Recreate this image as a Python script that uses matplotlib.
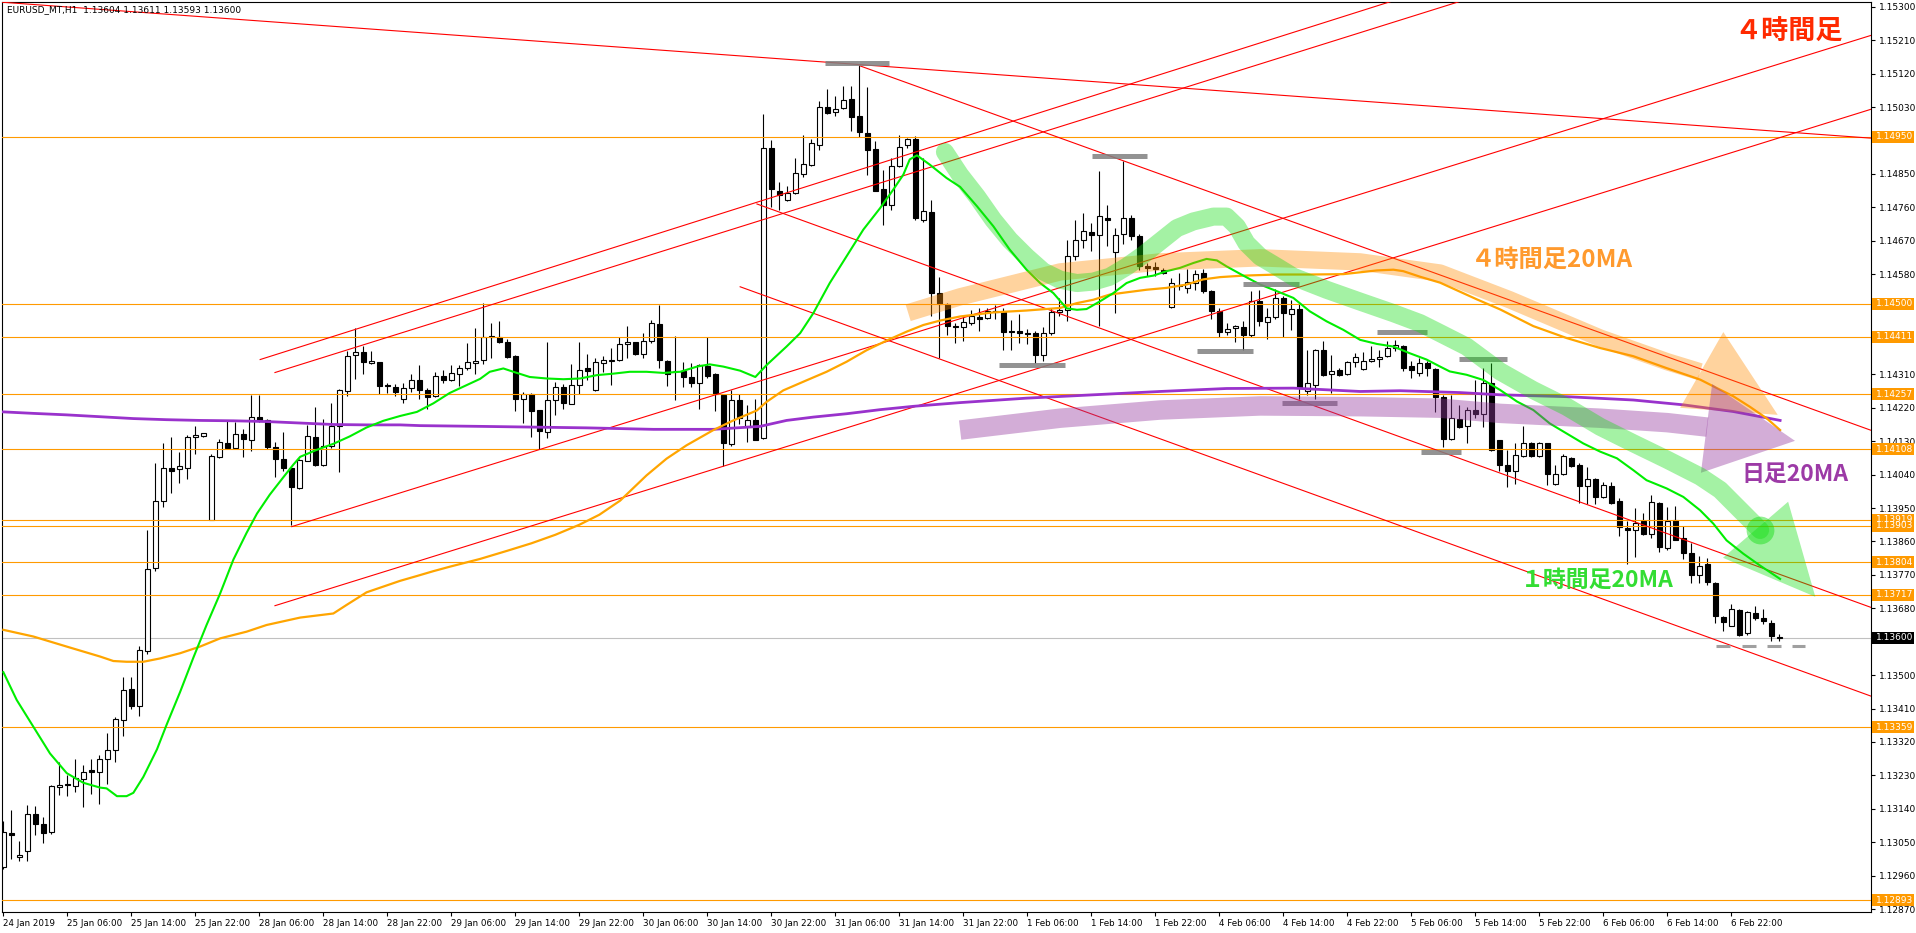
import numpy as np
import matplotlib
matplotlib.use('Agg')
import matplotlib.pyplot as plt
from matplotlib.patches import Rectangle, Polygon

# ---------------- DATA ----------------
bar_open = [
1.12984, 1.13074, 1.13009, 1.13027, 1.13125, 1.13100, 1.13077, 1.13200, 1.13208, 1.13201,
1.13220, 1.13244, 1.13239, 1.13273, 1.13298, 1.13379, 1.13462, 1.13418, 1.13565, 1.13788,
1.13969, 1.14059, 1.14054, 1.14059, 1.14141, 1.14144, 1.13919, 1.14087, 1.14124, 1.14113,
1.14149, 1.14134, 1.14194, 1.14187, 1.14114, 1.14083, 1.14059, 1.14004, 1.14078, 1.14141,
1.14066, 1.14116, 1.14171, 1.14265, 1.14361, 1.14371, 1.14341, 1.14343, 1.14281, 1.14277,
1.14243, 1.14274, 1.14296, 1.14267, 1.14252, 1.14307, 1.14294, 1.14311, 1.14326, 1.14340,
1.14348, 1.14412, 1.14412, 1.14398, 1.14359, 1.14245, 1.14258, 1.14213, 1.14155, 1.14240,
1.14275, 1.14231, 1.14281, 1.14326, 1.14267, 1.14342, 1.14347, 1.14348, 1.14392, 1.14396,
1.14366, 1.14400, 1.14446, 1.14347, 1.14320, 1.14320, 1.14302, 1.14287, 1.14332, 1.14312,
1.14254, 1.14122, 1.14242, 1.14170, 1.14188, 1.14140, 1.14920, 1.14803, 1.14779, 1.14799,
1.14851, 1.14875, 1.14929, 1.15031, 1.15018, 1.15028, 1.15051, 1.15006, 1.14961, 1.14916,
1.14808, 1.14767, 1.14871, 1.14927, 1.14943, 1.14727, 1.14747, 1.14528, 1.14500, 1.14439,
1.14437, 1.14448, 1.14464, 1.14462, 1.14482, 1.14477, 1.14427, 1.14426, 1.14421, 1.14421,
1.14363, 1.14421, 1.14477, 1.14484, 1.14628, 1.14673, 1.14694, 1.14686, 1.14731, 1.14640,
1.14688, 1.14731, 1.14684, 1.14601, 1.14600, 1.14590, 1.14491, 1.14552, 1.14543, 1.14556,
1.14583, 1.14534, 1.14482, 1.14424, 1.14435, 1.14437, 1.14417, 1.14507, 1.14451, 1.14464,
1.14516, 1.14473, 1.14487, 1.14266, 1.14282, 1.14376, 1.14311, 1.14322, 1.14311, 1.14343,
1.14324, 1.14345, 1.14351, 1.14360, 1.14382, 1.14386, 1.14333, 1.14315, 1.14341, 1.14324,
1.14249, 1.14135, 1.14189, 1.14171, 1.14213, 1.14203, 1.14287, 1.14132, 1.14066, 1.14050,
1.14090, 1.14124, 1.14091, 1.14124, 1.14016, 1.14041, 1.14084, 1.14066, 1.14009, 1.14027,
1.13980, 1.14009, 1.13968, 1.13897, 1.13890, 1.13915, 1.13881, 1.13964, 1.13843, 1.13917,
1.13868, 1.13829, 1.13771, 1.13798, 1.13749, 1.13657, 1.13633, 1.13676, 1.13613, 1.13667,
1.13653, 1.13641, 1.13604]

bar_high = [
1.13106, 1.13136, 1.13054, 1.13149, 1.13147, 1.13118, 1.13203, 1.13265, 1.13232, 1.13275,
1.13258, 1.13275, 1.13286, 1.13343, 1.13387, 1.13494, 1.13494, 1.13578, 1.13890, 1.14072,
1.14124, 1.14141, 1.14100, 1.14147, 1.14172, 1.14153, 1.14095, 1.14135, 1.14186, 1.14183,
1.14162, 1.14255, 1.14255, 1.14189, 1.14127, 1.14154, 1.14061, 1.14083, 1.14174, 1.14221,
1.14191, 1.14234, 1.14270, 1.14374, 1.14434, 1.14387, 1.14374, 1.14344, 1.14288, 1.14284,
1.14288, 1.14311, 1.14336, 1.14274, 1.14317, 1.14321, 1.14336, 1.14336, 1.14395, 1.14436,
1.14502, 1.14449, 1.14455, 1.14404, 1.14362, 1.14263, 1.14261, 1.14215, 1.14398, 1.14290,
1.14285, 1.14339, 1.14398, 1.14365, 1.14353, 1.14359, 1.14380, 1.14412, 1.14439, 1.14398,
1.14421, 1.14457, 1.14497, 1.14350, 1.14413, 1.14344, 1.14342, 1.14339, 1.14410, 1.14314,
1.14258, 1.14267, 1.14258, 1.14227, 1.14245, 1.15012, 1.14941, 1.14828, 1.14817, 1.14893,
1.14956, 1.14945, 1.15046, 1.15078, 1.15060, 1.15087, 1.15087, 1.15143, 1.15085, 1.14938,
1.14860, 1.14893, 1.14956, 1.14947, 1.14952, 1.14893, 1.14779, 1.14572, 1.14502, 1.14449,
1.14464, 1.14484, 1.14489, 1.14490, 1.14496, 1.14489, 1.14457, 1.14472, 1.14432, 1.14426,
1.14437, 1.14489, 1.14516, 1.14671, 1.14727, 1.14745, 1.14718, 1.14857, 1.14765, 1.14704,
1.14884, 1.14740, 1.14688, 1.14610, 1.14614, 1.14597, 1.14570, 1.14583, 1.14594, 1.14590,
1.14594, 1.14538, 1.14489, 1.14448, 1.14444, 1.14455, 1.14534, 1.14536, 1.14489, 1.14540,
1.14520, 1.14511, 1.14502, 1.14376, 1.14378, 1.14401, 1.14362, 1.14327, 1.14347, 1.14367,
1.14370, 1.14387, 1.14376, 1.14401, 1.14403, 1.14390, 1.14345, 1.14354, 1.14345, 1.14327,
1.14255, 1.14255, 1.14228, 1.14223, 1.14295, 1.14327, 1.14341, 1.14133, 1.14106, 1.14124,
1.14171, 1.14129, 1.14129, 1.14126, 1.14066, 1.14095, 1.14088, 1.14070, 1.14061, 1.14030,
1.14020, 1.14021, 1.13978, 1.13915, 1.13949, 1.13937, 1.13985, 1.13967, 1.13953, 1.13955,
1.13901, 1.13856, 1.13820, 1.13815, 1.13750, 1.13660, 1.13692, 1.13678, 1.13672, 1.13685,
1.13677, 1.13649, 1.13611]

bar_low = [
1.12979, 1.13005, 1.13000, 1.12999, 1.13069, 1.13048, 1.13072, 1.13178, 1.13174, 1.13185,
1.13144, 1.13180, 1.13154, 1.13206, 1.13265, 1.13337, 1.13408, 1.13391, 1.13557, 1.13780,
1.13953, 1.13990, 1.14017, 1.14028, 1.14095, 1.14142, 1.13919, 1.14085, 1.14109, 1.14110,
1.14088, 1.14104, 1.14183, 1.14109, 1.14034, 1.14050, 1.13904, 1.14002, 1.14076, 1.14064,
1.14064, 1.14112, 1.14046, 1.14252, 1.14298, 1.14312, 1.14339, 1.14257, 1.14260, 1.14253,
1.14232, 1.14262, 1.14245, 1.14217, 1.14250, 1.14288, 1.14291, 1.14280, 1.14322, 1.14310,
1.14339, 1.14353, 1.14394, 1.14353, 1.14212, 1.14179, 1.14141, 1.14108, 1.14140, 1.14200,
1.14218, 1.14230, 1.14258, 1.14294, 1.14265, 1.14317, 1.14281, 1.14347, 1.14353, 1.14362,
1.14353, 1.14394, 1.14326, 1.14278, 1.14242, 1.14276, 1.14276, 1.14218, 1.14299, 1.14211,
1.14062, 1.14116, 1.14177, 1.14128, 1.14132, 1.14137, 1.14761, 1.14752, 1.14776, 1.14797,
1.14842, 1.14871, 1.14914, 1.15010, 1.15006, 1.15026, 1.14965, 1.14950, 1.14848, 1.14803,
1.14713, 1.14752, 1.14869, 1.14920, 1.14727, 1.14720, 1.14466, 1.14353, 1.14416, 1.14394,
1.14399, 1.14444, 1.14428, 1.14459, 1.14459, 1.14376, 1.14376, 1.14394, 1.14392, 1.14340,
1.14347, 1.14417, 1.14466, 1.14453, 1.14617, 1.14650, 1.14643, 1.14441, 1.14657, 1.14475,
1.14661, 1.14671, 1.14592, 1.14574, 1.14576, 1.14581, 1.14488, 1.14536, 1.14529, 1.14538,
1.14529, 1.14460, 1.14412, 1.14417, 1.14396, 1.14376, 1.14412, 1.14441, 1.14405, 1.14459,
1.14412, 1.14430, 1.14243, 1.14255, 1.14243, 1.14306, 1.14261, 1.14306, 1.14309, 1.14331,
1.14322, 1.14343, 1.14330, 1.14356, 1.14373, 1.14318, 1.14300, 1.14305, 1.14306, 1.14210,
1.14115, 1.14133, 1.14165, 1.14124, 1.14192, 1.14169, 1.14104, 1.14050, 1.14007, 1.14016,
1.14088, 1.14088, 1.14088, 1.14011, 1.14012, 1.14039, 1.14061, 1.13964, 1.13962, 1.13962,
1.13977, 1.13960, 1.13874, 1.13800, 1.13818, 1.13877, 1.13868, 1.13832, 1.13836, 1.13863,
1.13814, 1.13748, 1.13748, 1.13744, 1.13640, 1.13620, 1.13631, 1.13606, 1.13608, 1.13649,
1.13638, 1.13591, 1.13593]

bar_close = [
1.13077, 1.13069, 1.13015, 1.13125, 1.13098, 1.13076, 1.13201, 1.13205, 1.13203, 1.13222,
1.13240, 1.13239, 1.13273, 1.13297, 1.13382, 1.13459, 1.13416, 1.13568, 1.13787, 1.13970,
1.14059, 1.14051, 1.14064, 1.14141, 1.14147, 1.14151, 1.14090, 1.14128, 1.14112, 1.14149,
1.14136, 1.14195, 1.14187, 1.14114, 1.14082, 1.14058, 1.14007, 1.14079, 1.14143, 1.14067,
1.14118, 1.14171, 1.14267, 1.14359, 1.14371, 1.14343, 1.14346, 1.14278, 1.14280, 1.14262,
1.14272, 1.14294, 1.14267, 1.14250, 1.14305, 1.14294, 1.14313, 1.14327, 1.14343, 1.14346,
1.14412, 1.14413, 1.14398, 1.14357, 1.14245, 1.14258, 1.14211, 1.14157, 1.14240, 1.14276,
1.14233, 1.14281, 1.14323, 1.14320, 1.14344, 1.14348, 1.14348, 1.14393, 1.14397, 1.14366,
1.14400, 1.14448, 1.14350, 1.14311, 1.14318, 1.14302, 1.14287, 1.14335, 1.14305, 1.14256,
1.14125, 1.14242, 1.14193, 1.14188, 1.14134, 1.14920, 1.14808, 1.14792, 1.14799, 1.14853,
1.14878, 1.14932, 1.15031, 1.15015, 1.15026, 1.15049, 1.15004, 1.14963, 1.14914, 1.14803,
1.14767, 1.14871, 1.14923, 1.14943, 1.14731, 1.14749, 1.14530, 1.14500, 1.14439, 1.14437,
1.14450, 1.14466, 1.14459, 1.14482, 1.14477, 1.14424, 1.14424, 1.14421, 1.14420, 1.14363,
1.14421, 1.14477, 1.14484, 1.14628, 1.14673, 1.14696, 1.14686, 1.14736, 1.14725, 1.14685,
1.14731, 1.14682, 1.14601, 1.14597, 1.14593, 1.14583, 1.14556, 1.14547, 1.14558, 1.14581,
1.14534, 1.14482, 1.14424, 1.14432, 1.14439, 1.14417, 1.14507, 1.14453, 1.14464, 1.14516,
1.14475, 1.14486, 1.14273, 1.14286, 1.14376, 1.14309, 1.14318, 1.14309, 1.14343, 1.14358,
1.14347, 1.14351, 1.14358, 1.14380, 1.14389, 1.14327, 1.14321, 1.14341, 1.14327, 1.14250,
1.14135, 1.14192, 1.14167, 1.14214, 1.14203, 1.14287, 1.14106, 1.14066, 1.14050, 1.14093,
1.14124, 1.14091, 1.14124, 1.14041, 1.14041, 1.14090, 1.14064, 1.14009, 1.14027, 1.13980,
1.14011, 1.13964, 1.13899, 1.13890, 1.13910, 1.13881, 1.13965, 1.13845, 1.13915, 1.13865,
1.13829, 1.13769, 1.13794, 1.13750, 1.13660, 1.13642, 1.13678, 1.13608, 1.13669, 1.13654,
1.13645, 1.13606, 1.13600]

# 1H 20MA (green): (bar index, price)
ma1h_x = [0, 1.67, 3.75, 5.83, 7.92, 10, 12.1, 12.9, 14.2, 15.4, 16.25, 17.5, 19.2, 20.4, 22.1,
          23.75, 25.4, 27.1, 28.75, 30.4, 31.7, 33.3, 35, 36.25, 37.1, 39.2, 41.25, 43.3, 45.4,
          47.5, 49.6, 51.7, 53.75, 55.8, 57.9, 59.6, 60.8, 62.5, 63.75, 65.8, 67.9, 70, 72.1,
          74.2, 76.25, 78.3, 80.4, 82.5, 84.6, 86.7, 88.3, 90, 92.1, 94, 95.4, 97.9, 99.6,
          101.25, 103.3, 105.4, 107.5, 109.6, 111.25, 112.5, 113.3, 114.2, 115.8, 117.9, 119.6,
          121.7, 123.75, 125.8, 127.9, 129.6, 131.25, 132.9, 134.2, 135.4, 137.1, 138.75, 140.4,
          142.1, 143.75, 145.4, 147.1, 148.75, 150.4, 151.7, 152.9, 155, 157.1, 159.2, 161.25,
          163.3, 165.4, 167.5, 169.6, 171.7, 173.75, 175.8, 177.9, 179.6, 180.8, 182.9, 185,
          187.1, 189.2, 191.25, 193.3, 195.4, 197.5, 199.6, 201.7, 203.75, 205.4, 207.9, 210,
          212.1, 213.75, 215.4, 217.5, 219.6, 222.1]
ma1h_y = [1.13508, 1.13433, 1.13361, 1.13289, 1.13236, 1.13210, 1.13197, 1.13195, 1.13174, 1.13174,
          1.13183, 1.13226, 1.13300, 1.13366, 1.13455, 1.13547, 1.13635, 1.13720, 1.13811, 1.13883,
          1.13935, 1.13986, 1.14033, 1.14067, 1.14088, 1.14107, 1.14123, 1.14143, 1.14167, 1.14185,
          1.14198, 1.14209, 1.14232, 1.14260, 1.14281, 1.14298, 1.14317, 1.14326, 1.14317, 1.14303,
          1.14299, 1.14297, 1.14299, 1.14308, 1.14312, 1.14317, 1.14317, 1.14314, 1.14317, 1.14331,
          1.14337, 1.14331, 1.14320, 1.14303, 1.14335, 1.14385, 1.14421, 1.14475, 1.14556, 1.14628,
          1.14700, 1.14758, 1.14808, 1.14848, 1.14889, 1.14900, 1.14875, 1.14839, 1.14815, 1.14763,
          1.14709, 1.14646, 1.14592, 1.14556, 1.14529, 1.14488, 1.14484, 1.14486, 1.14507, 1.14529,
          1.14556, 1.14570, 1.14576, 1.14588, 1.14597, 1.14610, 1.14621, 1.14617, 1.14601, 1.14576,
          1.14552, 1.14534, 1.14516, 1.14480, 1.14453, 1.14430, 1.14403, 1.14392, 1.14385, 1.14367,
          1.14350, 1.14331, 1.14318, 1.14309, 1.14295, 1.14268, 1.14237, 1.14214, 1.14178, 1.14151,
          1.14124, 1.14102, 1.14084, 1.14052, 1.14025, 1.14003, 1.13980, 1.13944, 1.13908, 1.13863,
          1.13827, 1.13795, 1.13759]

# 4H 20MA (orange)
ma4h_x = [0, 3.75, 7.9, 12.1, 13.75, 15.4, 17.5, 19.6, 22.1, 24.6, 27.1, 30.4, 32.9, 37.1, 41.25,
          42.9, 45.4, 49.6, 51.7, 53.75, 55.8, 59.6, 63, 66, 69, 72, 74.5, 77.1, 80.4, 82.9, 85.4,
          88.75, 91.25, 94.2, 95.4, 97.5, 100.4, 102.9, 105.4, 107.9, 110.4, 112.9, 115, 117.1,
          119.6, 123.75, 127.9, 132.1, 134.2, 136.25, 138.3, 140.4, 142.9, 145.4, 147.9, 150,
          152.1, 155, 159.2, 163.3, 167.5, 169.6, 171.7, 173.75, 175, 177.1, 179.6, 184.2, 187.1,
          191.25, 195.4, 199.6, 203.75, 207.9, 212.1, 214.2, 216.25, 218.3, 220.4, 222.1]
ma4h_y = [1.13622, 1.13604, 1.13577, 1.13550, 1.13538, 1.13536, 1.13536, 1.13545, 1.13559, 1.13577,
          1.13599, 1.13617, 1.13635, 1.13655, 1.13666, 1.13689, 1.13723, 1.13754, 1.13767, 1.13780,
          1.13792, 1.13813, 1.13835, 1.13855, 1.13878, 1.13905, 1.13932, 1.13970, 1.14038, 1.14083,
          1.14119, 1.14160, 1.14186, 1.14213, 1.14236, 1.14267, 1.14294, 1.14317, 1.14344, 1.14375,
          1.14401, 1.14425, 1.14443, 1.14455, 1.14466, 1.14477, 1.14482, 1.14489, 1.14502, 1.14511,
          1.14525, 1.14531, 1.14538, 1.14543, 1.14552, 1.14566, 1.14572, 1.14576, 1.14579, 1.14579,
          1.14580, 1.14585, 1.14590, 1.14592, 1.14588, 1.14573, 1.14557, 1.14512, 1.14485, 1.14440,
          1.14408, 1.14381, 1.14359, 1.14327, 1.14296, 1.14273, 1.14251, 1.14223, 1.14192, 1.14160]

# Daily 20MA (purple)
ma1d_x = [0, 3.75, 7.9, 12.1, 16.25, 20.4, 24.6, 28.75, 32.9, 37.1, 41.25, 45.4, 49.6, 52.1, 59.6,
          72.9, 81.25, 88.75, 94.6, 97.9, 101.25, 105.4, 109.6, 113.75, 119.6, 127.9, 136.25,
          144.6, 152.9, 161.25, 169.6, 174.6, 182.1, 187.1, 195.4, 203.75, 210, 216.25, 222.1]
ma1d_y = [1.14209, 1.14205, 1.14201, 1.14196, 1.14191, 1.14188, 1.14186, 1.14185, 1.14183, 1.14179,
          1.14175, 1.14174, 1.14174, 1.14172, 1.14170, 1.14166, 1.14162, 1.14162, 1.14170, 1.14186,
          1.14195, 1.14204, 1.14215, 1.14224, 1.14234, 1.14246, 1.14255, 1.14264, 1.14272, 1.14273,
          1.14264, 1.14266, 1.14261, 1.14255, 1.14250, 1.14241, 1.14228, 1.14210, 1.14186]

# horizontal levels (orange)
levels = [1.14950, 1.14500, 1.14411, 1.14257, 1.14108, 1.13919, 1.13903, 1.13804, 1.13717,
          1.13359, 1.12893]
current_price = 1.13600

# red trend lines: (start bar, start price) -> (second bar, second price), extended to the right
tl_start_bar = [-5.0, 32.1, 33.95, 36.05, 33.95, 107.08, 94.2, 92.1]
tl_start_price = [1.15320, 1.14350, 1.14315, 1.13900, 1.13687, 1.15141, 1.14769, 1.14546]
tl_end_bar = [233.0, 119.6, 119.6, 233.0, 233.0, 233.0, 233.0, 233.0]
tl_end_price = [1.14947, 1.14947, 1.14893, 1.15220, 1.15021, 1.14163, 1.13686, 1.13447]

# grey highlight bars (start bar, end bar, price)
mark_b0 = [102.7, 136.1, 124.5, 149.2, 155.0, 159.8, 171.7, 177.2, 182.0]
mark_b1 = [110.7, 143.0, 132.7, 156.2, 162.0, 166.7, 178.0, 182.2, 188.0]
mark_p = [1.15150, 1.14897, 1.14336, 1.14374, 1.14553, 1.14233, 1.14423, 1.14100, 1.14352]
dash_b0 = [214.1, 217.3, 220.4, 223.6]
dash_b1 = [215.8, 219.1, 222.2, 225.2]
dash_p = 1.13579

# hand-drawn highlight strokes
band4h_x = [113.1, 119.6, 132.1, 144.6, 157.1, 169.6, 179.6, 188.3, 199.6, 208.0, 212.1]
band4h_y = [1.14476, 1.14519, 1.14586, 1.14613, 1.14624, 1.14613, 1.14583, 1.14511, 1.14408, 1.14344, 1.14317]
tri4h_x = [215.0, 209.6, 221.8]
tri4h_y = [1.14424, 1.14220, 1.14201]

band1d_x = [119.6, 132.1, 144.6, 157.1, 169.6, 179.6, 187.1, 199.6, 208.0, 213.0]
band1d_y = [1.14160, 1.14192, 1.14214, 1.14225, 1.14223, 1.14219, 1.14205, 1.14192, 1.14180, 1.14168]
tri1d_x = [213.6, 212.2, 223.96]
tri1d_y = [1.14284, 1.14045, 1.14131]

band1h_x = [117.7, 119.6, 121.7, 123.75, 125.8, 127.9, 130.0, 132.1, 134.2, 136.25, 138.3, 140.4,
            142.5, 144.6, 146.7, 148.75, 151.25, 152.9, 154.2, 155.4, 157.1, 159.2, 161.25, 165.4,
            169.6, 173.75, 177.1, 179.6, 182.9, 187.1, 191.2, 195.4, 199.6, 203.7, 208.0, 212.1,
            214.6, 217.1, 219.6]
band1h_y = [1.14909, 1.14847, 1.14789, 1.14726, 1.14672, 1.14627, 1.14587, 1.14565, 1.14556, 1.14560,
            1.14573, 1.14600, 1.14632, 1.14668, 1.14704, 1.14722, 1.14735, 1.14735, 1.14708, 1.14663,
            1.14627, 1.14600, 1.14573, 1.14538, 1.14506, 1.14475, 1.14448, 1.14421, 1.14385, 1.14318,
            1.14268, 1.14223, 1.14169, 1.14125, 1.14080, 1.14035, 1.13999, 1.13945, 1.13891]
tri1h_x = [214.96, 223.1, 226.5]
tri1h_y = [1.13816, 1.13967, 1.13711]

ytick_values = [1.12870, 1.12960, 1.13050, 1.13140, 1.13230, 1.13320, 1.13410, 1.13500, 1.13590,
                1.13680, 1.13770, 1.13860, 1.13950, 1.14040, 1.14130, 1.14220, 1.14310, 1.14400,
                1.14490, 1.14580, 1.14670, 1.14760, 1.14850, 1.14940, 1.15030, 1.15120, 1.15210,
                1.15300]
# tick labels fully hidden behind the price boxes in the reference
ytick_hidden = [1.13590, 1.14400, 1.14490, 1.14940]
xtick_bars = list(range(0, 217, 8))
xtick_labels = ["24 Jan 2019", "25 Jan 06:00", "25 Jan 14:00", "25 Jan 22:00", "28 Jan 06:00",
                "28 Jan 14:00", "28 Jan 22:00", "29 Jan 06:00", "29 Jan 14:00", "29 Jan 22:00",
                "30 Jan 06:00", "30 Jan 14:00", "30 Jan 22:00", "31 Jan 06:00", "31 Jan 14:00",
                "31 Jan 22:00", "1 Feb 06:00", "1 Feb 14:00", "1 Feb 22:00", "4 Feb 06:00",
                "4 Feb 14:00", "4 Feb 22:00", "5 Feb 06:00", "5 Feb 14:00", "5 Feb 22:00",
                "6 Feb 06:00", "6 Feb 14:00", "6 Feb 22:00"]

title_text = "EURUSD_MT,H1  1.13604 1.13611 1.13593 1.13600"

# ---------------- FIGURE ----------------
W, H = 1916, 933
fig = plt.figure(figsize=(W / 100, H / 100), dpi=100)
fig.patch.set_facecolor('white')
L, R, T, B = 2, 1871, 2, 912
ax = fig.add_axes([L / W, 1 - B / H, (R - L) / W, (B - T) / H])
ax.set_facecolor('white')
ax.set_xlim(-0.17, 233.46)
ax.set_ylim(1.12862, 1.15313)
px_price = (1.15313 - 1.12862) / (B - T)   # price per pixel

for s in ax.spines.values():
    s.set_color('black')
    s.set_linewidth(0.8)

CJK = ['Noto Sans CJK JP', 'DejaVu Sans']
ORANGE = '#ff9a00'

# horizontal levels
for lv in levels:
    ax.axhline(lv, color=ORANGE, lw=0.8, zorder=3)
ax.axhline(current_price, color='#c0c0c0', lw=0.8, zorder=1.5)

# candles
o = np.array(bar_open); h = np.array(bar_high); l = np.array(bar_low); c = np.array(bar_close)
xs = np.arange(len(o))
hi = np.maximum(h, np.maximum(o, c))
lo = np.minimum(l, np.minimum(o, c))
ax.vlines(xs, lo, hi, color='black', lw=0.8, zorder=2)
body = np.maximum(np.abs(c - o), 0.4 * px_price)
ax.bar(xs, body, bottom=np.minimum(o, c), width=0.6,
       color=np.where(c >= o, 'white', 'black'), edgecolor='black', linewidth=0.8, zorder=2.1)

# trend lines
for sb, sp, eb, ep in zip(tl_start_bar, tl_start_price, tl_end_bar, tl_end_price):
    slope = (ep - sp) / (eb - sb)
    xe = 240.0
    ax.plot([sb, xe], [sp, sp + slope * (xe - sb)], color='#ff0000', lw=0.8, zorder=3.2)

# moving averages
ax.plot(ma1d_x, ma1d_y, color='#9932cc', lw=2.0, zorder=3.5)
ax.plot(ma4h_x, ma4h_y, color='#ffa500', lw=1.6, zorder=3.6)
ax.plot(ma1h_x, ma1h_y, color='#00ee00', lw=1.5, zorder=3.7)

# grey markers
for b0, b1, p in zip(mark_b0, mark_b1, mark_p):
    ax.plot([b0, b1], [p, p], color='#808080', lw=3.6, alpha=0.85, solid_capstyle='butt', zorder=4)
for b0, b1 in zip(dash_b0, dash_b1):
    ax.plot([b0, b1], [dash_p, dash_p], color='#a0a0a0', lw=2.2, solid_capstyle='butt', zorder=4)

# highlight strokes
ax.plot(band4h_x, band4h_y, color='#ff8c00', lw=12.5, alpha=0.38, solid_capstyle='butt',
        solid_joinstyle='round', zorder=5)
ax.add_patch(Polygon(np.column_stack([tri4h_x, tri4h_y]), closed=True, facecolor='#ff8c00',
                     edgecolor='none', alpha=0.38, zorder=5))
ax.plot(band1d_x, band1d_y, color='#963ca0', lw=14, alpha=0.42, solid_capstyle='butt',
        solid_joinstyle='round', zorder=5)
ax.add_patch(Polygon(np.column_stack([tri1d_x, tri1d_y]), closed=True, facecolor='#963ca0',
                     edgecolor='none', alpha=0.42, zorder=5))
ax.plot(band1h_x, band1h_y, color='#10dd10', lw=13, alpha=0.38, solid_capstyle='round',
        solid_joinstyle='round', zorder=5)
ax.add_patch(Polygon(np.column_stack([tri1h_x, tri1h_y]), closed=True, facecolor='#10dd10',
                     edgecolor='none', alpha=0.38, zorder=5))
ax.plot([band1h_x[-1]], [band1h_y[-1]], 'o', color='#10dd10', ms=20, alpha=0.45, mec='none', zorder=5)

# annotation texts
ax.text(223.2, 1.15233, '４時間足', color='#ff2a00', fontsize=19.5, fontweight='bold',
        family=CJK, ha='center', va='center', zorder=8)
ax.text(193.6, 1.14618, '４時間足20MA', color='#ff9a2e', fontsize=17.5, fontweight='bold',
        family=CJK, ha='center', va='center', zorder=8)
ax.text(223.96, 1.14042, '日足20MA', color='#9c3aa6', fontsize=16.5, fontweight='bold',
        family=CJK, ha='center', va='center', zorder=8)
ax.text(199.2, 1.13756, '１時間足20MA', color='#33dd33', fontsize=16.5, fontweight='bold',
        family=CJK, ha='center', va='center', zorder=8)

# title
ax.text(5 / (R - L), 1 - 8 / (B - T), title_text, transform=ax.transAxes, fontsize=6.5,
        ha='left', va='center', color='black', zorder=9)

# axes ticks
ax.yaxis.tick_right()
ax.set_yticks(ytick_values)
ax.set_yticklabels(['' if v in ytick_hidden else '%.5f' % v for v in ytick_values])
ax.tick_params(axis='y', direction='out', length=3, width=0.8, pad=3, labelsize=6.5, colors='black')
ax.set_xticks(xtick_bars)
ax.set_xticklabels(xtick_labels)
ax.tick_params(axis='x', direction='out', length=3, width=0.8, pad=2, labelsize=6.3, colors='black')
for lab in ax.get_xticklabels():
    lab.set_horizontalalignment('left')

# price label boxes on right axis
ytr = ax.get_yaxis_transform()
box_w = 42 / (R - L)
box_h = 12 * px_price
for lv in levels + [current_price]:
    fc = 'black' if lv == current_price else ORANGE
    ax.add_patch(Rectangle((1.0005, lv - box_h / 2), box_w, box_h, transform=ytr, facecolor=fc,
                           edgecolor='none', clip_on=False, zorder=10))
    ax.text(1.0005 + 4 / (R - L), lv, '%.5f' % lv, transform=ytr, fontsize=6.5, color='white',
            ha='left', va='center', clip_on=False, zorder=11)

fig.savefig('out.png', dpi=100)
